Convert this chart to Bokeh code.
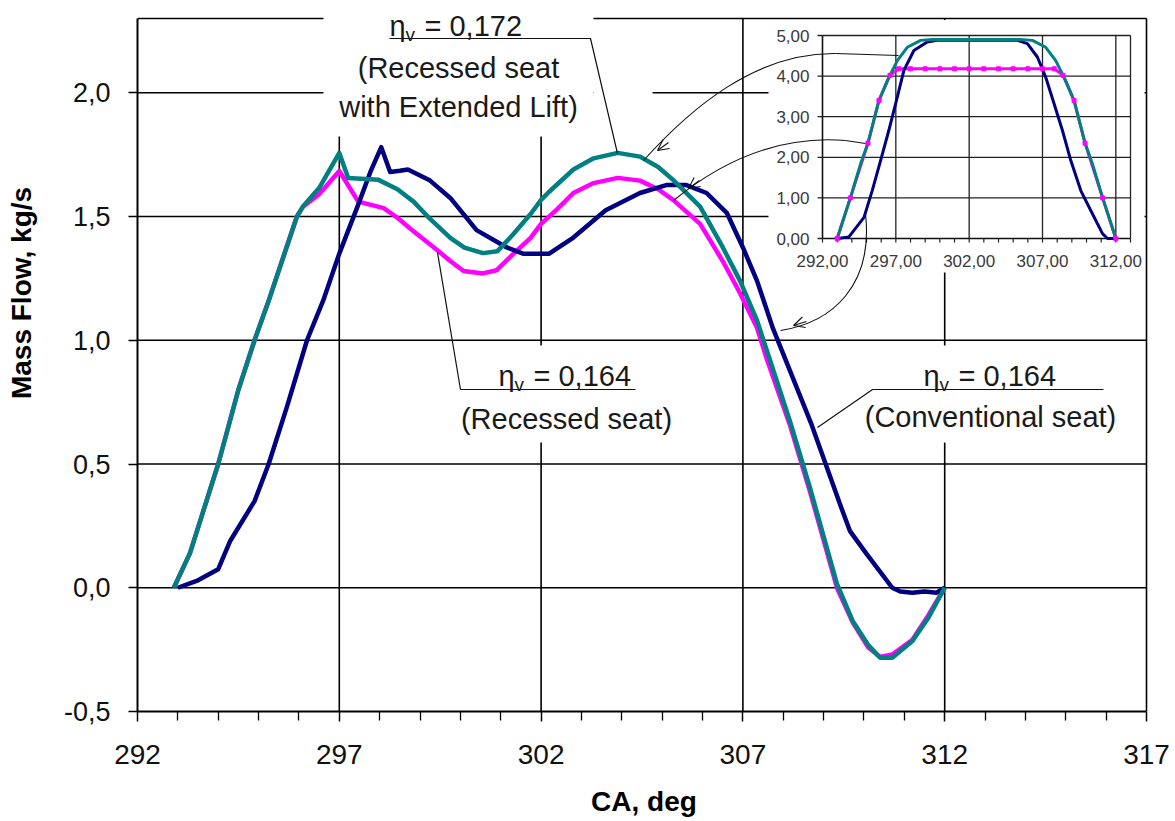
from bokeh.plotting import figure
from bokeh.models import Range1d, FixedTicker, LinearAxis, Arrow, OpenHead
from bokeh.core.properties import value
from bokeh.embed import file_html
from bokeh.resources import INLINE

# ---------------- data ----------------
# Mass flow, kg/s versus crank angle, deg
ca_conventional = [293.0, 293.5, 294.0, 294.3, 294.9, 295.25, 295.7, 296.2, 296.6, 297.0, 297.45,
                   297.77, 298.04, 298.26, 298.5, 298.7, 299.25, 299.75, 300.4, 301.15, 301.55,
                   302.2, 302.8, 303.6, 304.45, 305.1, 305.6, 306.1, 306.6, 307.0, 307.35, 307.74,
                   308.7, 309.05, 309.4, 309.65, 310.05, 310.7, 310.9, 311.2, 311.5, 311.8, 312.0]
mf_conventional = [0.0, 0.03, 0.075, 0.19, 0.35, 0.5, 0.73, 1.0, 1.16, 1.35, 1.54,
                   1.68, 1.78, 1.68, 1.685, 1.69, 1.645, 1.575, 1.445, 1.375, 1.35,
                   1.35, 1.415, 1.525, 1.595, 1.627, 1.627, 1.595, 1.515, 1.375, 1.24, 1.05,
                   0.66, 0.5, 0.34, 0.23, 0.14, 0.0, -0.015, -0.02, -0.015, -0.02, 0.0]

ca_recessed = [292.9, 293.3, 294.0, 294.5, 294.9, 295.25, 295.95, 296.1, 296.5, 297.0, 297.47,
               298.1, 298.44, 298.84, 299.43, 299.75, 300.08, 300.56, 300.9, 301.32, 301.74,
               302.0, 302.4, 302.8, 303.3, 303.9, 304.45, 304.9, 305.27, 305.94, 306.5, 306.93,
               307.35, 307.6, 308.16, 308.66, 309.33, 309.72, 310.1, 310.4, 310.7, 311.2, 311.6, 312.0]
mf_recessed = [0.0, 0.14, 0.5, 0.8, 1.0, 1.16, 1.5, 1.54, 1.59, 1.684, 1.56,
               1.534, 1.495, 1.44, 1.364, 1.32, 1.28, 1.27, 1.283, 1.35, 1.414,
               1.47, 1.53, 1.595, 1.635, 1.656, 1.645, 1.61, 1.567, 1.47, 1.32, 1.19,
               1.05, 0.92, 0.66, 0.39, 0.0, -0.14, -0.24, -0.28, -0.27, -0.21, -0.11, 0.0]

ca_extended = [292.9, 293.3, 294.0, 294.5, 294.9, 295.25, 295.95, 296.1, 296.5, 297.0, 297.22,
               297.97, 298.44, 298.84, 299.25, 299.75, 300.1, 300.56, 300.92, 301.32, 301.74,
               302.0, 302.2, 302.8, 303.3, 303.9, 304.45, 304.9, 305.27, 305.94, 306.5, 306.93,
               307.35, 307.67, 308.16, 308.66, 309.33, 309.72, 310.1, 310.4, 310.7, 311.2, 311.6, 312.0]
mf_extended = [0.0, 0.14, 0.5, 0.8, 1.0, 1.16, 1.5, 1.54, 1.615, 1.757, 1.656,
               1.648, 1.61, 1.56, 1.49, 1.414, 1.374, 1.352, 1.36, 1.43, 1.51,
               1.567, 1.6, 1.69, 1.735, 1.757, 1.742, 1.70, 1.648, 1.54, 1.376, 1.24,
               1.08, 0.92, 0.676, 0.405, 0.016, -0.134, -0.23, -0.283, -0.283, -0.215, -0.12, 0.0]

x_ticks = [292, 297, 302, 307, 312, 317]
x_tick_labels = ["292", "297", "302", "307", "312", "317"]
x_minor_ticks = [293, 294, 295, 296, 298, 299, 300, 301, 303, 304, 305, 306,
                 308, 309, 310, 311, 313, 314, 315, 316]
y_ticks = [-0.5, 0.0, 0.5, 1.0, 1.5, 2.0]
y_tick_labels = ["-0,5", "0,0", "0,5", "1,0", "1,5", "2,0"]
y_top = 2.3
x_title = "CA, deg"
y_title = "Mass Flow, kg/s"

# Inset: valve lift versus crank angle
lift_ca_conventional = [293.05, 293.8, 294.83, 295.39, 295.96, 296.52, 297.1, 297.55, 298.23, 299.14,
                        299.82, 305.29, 305.97, 306.65, 307.22, 307.79, 308.36, 308.93, 309.61,
                        310.29, 311.09, 311.43, 312.0]
lift_conventional = [0.0, 0.04, 0.52, 1.18, 1.92, 2.66, 3.48, 4.14, 4.63, 4.84,
                     4.88, 4.88, 4.8, 4.47, 3.97, 3.32, 2.66, 1.92, 1.18,
                     0.69, 0.12, 0.0, 0.0]
lift_ca_recessed = [293.0, 293.9, 295.1, 295.85, 296.6, 297.2, 298.0, 299.0, 300.0, 301.0, 302.0,
                    303.0, 304.0, 305.0, 306.0, 307.0, 307.8, 308.4, 309.15, 309.9, 311.1, 312.0]
lift_recessed = [0.0, 1.0, 2.35, 3.4, 4.02, 4.18, 4.18, 4.18, 4.18, 4.18, 4.18,
                 4.18, 4.18, 4.18, 4.18, 4.18, 4.18, 4.02, 3.4, 2.35, 1.0, 0.0]
lift_ca_extended = [293.0, 293.9, 294.6, 295.1, 295.85, 296.42, 297.1, 297.78, 298.69, 299.5,
                    305.5, 306.31, 307.22, 307.9, 308.58, 309.15, 309.9, 310.4, 311.1, 312.0]
lift_extended = [0.0, 1.0, 1.84, 2.35, 3.4, 3.89, 4.38, 4.71, 4.88, 4.9,
                 4.9, 4.88, 4.71, 4.38, 3.89, 3.4, 2.35, 1.84, 1.0, 0.0]
inset_x_ticks = [292, 297, 302, 307, 312]
inset_x_tick_labels = ["292,00", "297,00", "302,00", "307,00", "312,00"]
inset_x_minor = [293, 294, 295, 296, 298, 299, 300, 301, 303, 304, 305, 306, 308, 309, 310, 311, 313]
inset_y_ticks = [0, 1, 2, 3, 4, 5]
inset_y_tick_labels = ["0,00", "1,00", "2,00", "3,00", "4,00", "5,00"]
inset_x_end = 313

eta_values = ["= 0,172", "= 0,164", "= 0,164"]
seat_texts = [["(Recessed seat", "with Extended Lift)"], ["(Recessed seat)"], ["(Conventional seat)"]]

# ---------------- layout ----------------
W, H = 1175, 821
FL, FR, FT, FB = 137, 1150, 14, 711          # frame in page pixels
XPX = (1146 - 137) / (x_ticks[-1] - x_ticks[0])
YPX = (711 - 18) / (y_top - y_ticks[0])
x0, y0 = x_ticks[0], y_ticks[0]

def mx(px):
    return x0 + (px - FL) / XPX

def my(py):
    return y0 + (FB - py) / YPX

IL, IR, IT, IB = 822, 1130, 35, 238           # inset plot area in page pixels
IXPX = (IR - IL) / (inset_x_end - inset_x_ticks[0])
IYPX = (IB - IT) / (inset_y_ticks[-1] - inset_y_ticks[0])
ix0 = inset_x_ticks[0]

FONT = "Liberation Sans"
NAVY, TEAL, MAGENTA = "#000080", "#008080", "#FF00FF"

p = figure(width=W, height=H, output_backend="svg", toolbar_location=None,
           x_range=Range1d(x0, mx(FR)), y_range=Range1d(y0, my(FT)),
           min_border_left=FL, min_border_right=W - FR, min_border_top=FT, min_border_bottom=H - FB)
p.outline_line_color = None
p.grid.visible = False
p.background_fill_color = "white"
p.border_fill_color = "white"
p.extra_x_ranges = {"ix": Range1d(ix0 - (IL - FL) / IXPX, ix0 + (FR - IL) / IXPX)}
p.extra_y_ranges = {"iy": Range1d(-(FB - IB) / IYPX, (IB - FT) / IYPX)}

# axes
xa = p.xaxis[0]
xa.ticker = FixedTicker(ticks=x_ticks, minor_ticks=x_minor_ticks)
xa.bounds = (x_ticks[0], x_ticks[-1])
xa.major_label_overrides = dict(zip(x_ticks, x_tick_labels))
xa.axis_label = x_title
xa.axis_label_text_font = FONT
xa.axis_label_text_font_style = "bold"
xa.axis_label_text_font_size = "28px"
xa.axis_label_text_color = "black"
xa.axis_label_standoff = 19
xa.major_label_text_font = FONT
xa.major_label_text_font_size = "28px"
xa.major_label_text_color = "#111111"
xa.major_label_standoff = 23
xa.major_tick_in = 0
xa.major_tick_out = 10
xa.minor_tick_in = 0
xa.minor_tick_out = 9
xa.axis_line_width = 2
xa.major_tick_line_width = 1.5
xa.minor_tick_line_width = 1.3
xa.axis_line_color = "black"
xa.major_tick_line_color = "black"
xa.minor_tick_line_color = "black"

ya = p.yaxis[0]
ya.ticker = FixedTicker(ticks=y_ticks, minor_ticks=[])
ya.bounds = (y_ticks[0], y_top)
ya.major_label_overrides = dict(zip(y_ticks, y_tick_labels))
ya.major_label_text_font = FONT
ya.major_label_text_font_size = "27px"
ya.major_label_text_color = "#111111"
ya.major_label_standoff = 18
ya.major_tick_in = 0
ya.major_tick_out = 9
ya.minor_tick_line_color = None
ya.axis_line_width = 2
ya.major_tick_line_width = 1.5
ya.axis_line_color = "black"
ya.major_tick_line_color = "black"

# second, bare left axis that only carries the title; leading no-break spaces lift the
# visible words to where the reference has them (centred above the frame centre)
ya2 = LinearAxis(ticker=FixedTicker(ticks=[], minor_ticks=[]),
                 axis_label="\u00a0" * 18 + y_title, axis_line_color=None, major_tick_line_color=None,
                 minor_tick_line_color=None, major_tick_out=0, major_tick_in=0,
                 minor_tick_out=0, minor_tick_in=0, major_label_standoff=0,
                 axis_label_standoff=24, axis_label_text_font=FONT,
                 axis_label_text_font_style="bold", axis_label_text_font_size="28px",
                 axis_label_text_color="black")
p.add_layout(ya2, "left")

# grid and frame lines
gy = y_ticks[1:] + [y_top]
p.segment(x0=x_ticks[0], y0=gy, x1=x_ticks[-1], y1=gy, line_color="black", line_width=1.6)
gx = x_ticks[1:]
p.segment(x0=gx, y0=y_ticks[0], x1=gx, y1=y_top, line_color="black", line_width=1.6)

# white boxes behind the annotations and the inset
bl = [mx(323), mx(593), mx(455), mx(860), mx(768)]
br = [mx(593), mx(652), mx(675), mx(1120), mx(1144)]
bt = [my(0), my(60), my(345), my(345), my(19.5)]
bb = [my(136), my(136), my(442), my(442), my(272)]
p.quad(left=bl, right=br, top=bt, bottom=bb, fill_color="white", line_color=None)

# main curves
p.line(ca_recessed, mf_recessed, line_color=MAGENTA, line_width=4.5, line_join="round")
p.line(ca_conventional, mf_conventional, line_color=NAVY, line_width=4.5, line_join="round")
p.line(ca_extended, mf_extended, line_color=TEAL, line_width=4.5, line_join="round")

# ---------------- inset ----------------
R = dict(x_range_name="ix", y_range_name="iy")
iys = inset_y_ticks[1:]
p.segment(x0=ix0, y0=iys, x1=inset_x_end, y1=iys, line_color="#222222", line_width=1.3, **R)
ixs = inset_x_ticks[1:] + [inset_x_end]
p.segment(x0=ixs, y0=0, x1=ixs, y1=inset_y_ticks[-1], line_color="#222222", line_width=1.3, **R)
p.segment(x0=[ix0, ix0], y0=[0, 0], x1=[ix0, inset_x_end], y1=[inset_y_ticks[-1], 0],
          line_color="#111111", line_width=1.6, **R)
tlx = 5 / IXPX
p.segment(x0=ix0 - tlx, y0=inset_y_ticks, x1=ix0, y1=inset_y_ticks, line_color="#222222", line_width=1.3, **R)
tly = 4 / IYPX
p.segment(x0=inset_x_ticks + inset_x_minor, y0=-tly, x1=inset_x_ticks + inset_x_minor, y1=0,
          line_color="#222222", line_width=1.2, **R)
p.text(x=ix0 - 13 / IXPX, y=inset_y_ticks, text=inset_y_tick_labels, text_align="right",
       text_baseline="middle", text_font=value(FONT), text_font_size="17px", text_color="#3a3a3a", **R)
p.text(x=inset_x_ticks, y=-22 / IYPX, text=inset_x_tick_labels, text_align="center",
       text_baseline="middle", text_font=value(FONT), text_font_size="17px", text_color="#3a3a3a", **R)

p.line(lift_ca_recessed, lift_recessed, line_color=MAGENTA, line_width=3, **R)
p.line(lift_ca_conventional, lift_conventional, line_color=NAVY, line_width=3, **R)
p.line(lift_ca_extended, lift_extended, line_color=TEAL, line_width=3, **R)
p.scatter(lift_ca_recessed, lift_recessed, marker="square", size=4, fill_color=MAGENTA,
          line_color=MAGENTA, **R)

# ---------------- arrows from inset to main curves ----------------
LC = "#111111"
p.line([mx(898), mx(835)], [my(55), my(53)], line_color=LC, line_width=1.1)
p.bezier(x0=mx(835), y0=my(53), x1=mx(643), y1=my(160), cx0=mx(755), cy0=my(52),
         cx1=mx(690), cy1=my(108), line_color=LC, line_width=1.1)
p.line([mx(865), mx(845)], [my(143), my(140)], line_color=LC, line_width=1.1)
p.bezier(x0=mx(845), y0=my(140), x1=mx(673), y1=my(200), cx0=mx(770), cy0=my(134),
         cx1=mx(712), cy1=my(168), line_color=LC, line_width=1.1)
p.bezier(x0=mx(865), y0=my(213), x1=mx(780), y1=my(330), cx0=mx(873), cy0=my(285),
         cx1=mx(832), cy1=my(322), line_color=LC, line_width=1.1)
for (sx, sy, ex, ey) in [(668, 142, 657, 150), (699, 180, 688, 188), (806, 321, 793, 325)]:
    p.add_layout(Arrow(end=OpenHead(size=11, line_width=1.1, line_color=LC),
                       x_start=mx(sx), y_start=my(sy), x_end=mx(ex), y_end=my(ey),
                       line_color=LC, line_width=1.1))

# ---------------- callouts ----------------
p.line([mx(389), mx(590), mx(617)], [my(38), my(38), my(153)], line_color=LC, line_width=1.2)
p.line([mx(437), mx(460), mx(635)], [my(252), my(389), my(389)], line_color=LC, line_width=1.2)
p.line([mx(817), mx(872), mx(1103)], [my(427), my(389), my(389)], line_color=LC, line_width=1.2)

TC = "#1a1a1a"
eta_x = [389, 498, 923]
eta_mid = [25, 375, 375]
p.text(x=[mx(v) for v in eta_x], y=[my(v) for v in eta_mid], text=["η"] * 3, text_align="left",
       text_baseline="middle", text_font=value(FONT), text_font_size="29px", text_color=TC)
p.text(x=[mx(v + 16) for v in eta_x], y=[my(v + 9) for v in eta_mid], text=["v"] * 3,
       text_align="left", text_baseline="middle", text_font=value(FONT),
       text_font_size="19px", text_color=TC)
p.text(x=[mx(v + 35) for v in eta_x], y=[my(v) for v in eta_mid], text=eta_values,
       text_align="left", text_baseline="middle", text_font=value(FONT),
       text_font_size="29px", text_color=TC)
seat_cx = [458, 566, 990]
seat_cy = [[67, 106], [418], [416]]
sx_, sy_, st_ = [], [], []
for cx, cys, texts in zip(seat_cx, seat_cy, seat_texts):
    for cy, t in zip(cys, texts):
        sx_.append(mx(cx))
        sy_.append(my(cy))
        st_.append(t)
p.text(x=sx_, y=sy_, text=st_, text_align="center", text_baseline="middle",
       text_font=value(FONT), text_font_size="29px", text_color=TC)

open("out.html", "w").write(file_html(p, INLINE))
